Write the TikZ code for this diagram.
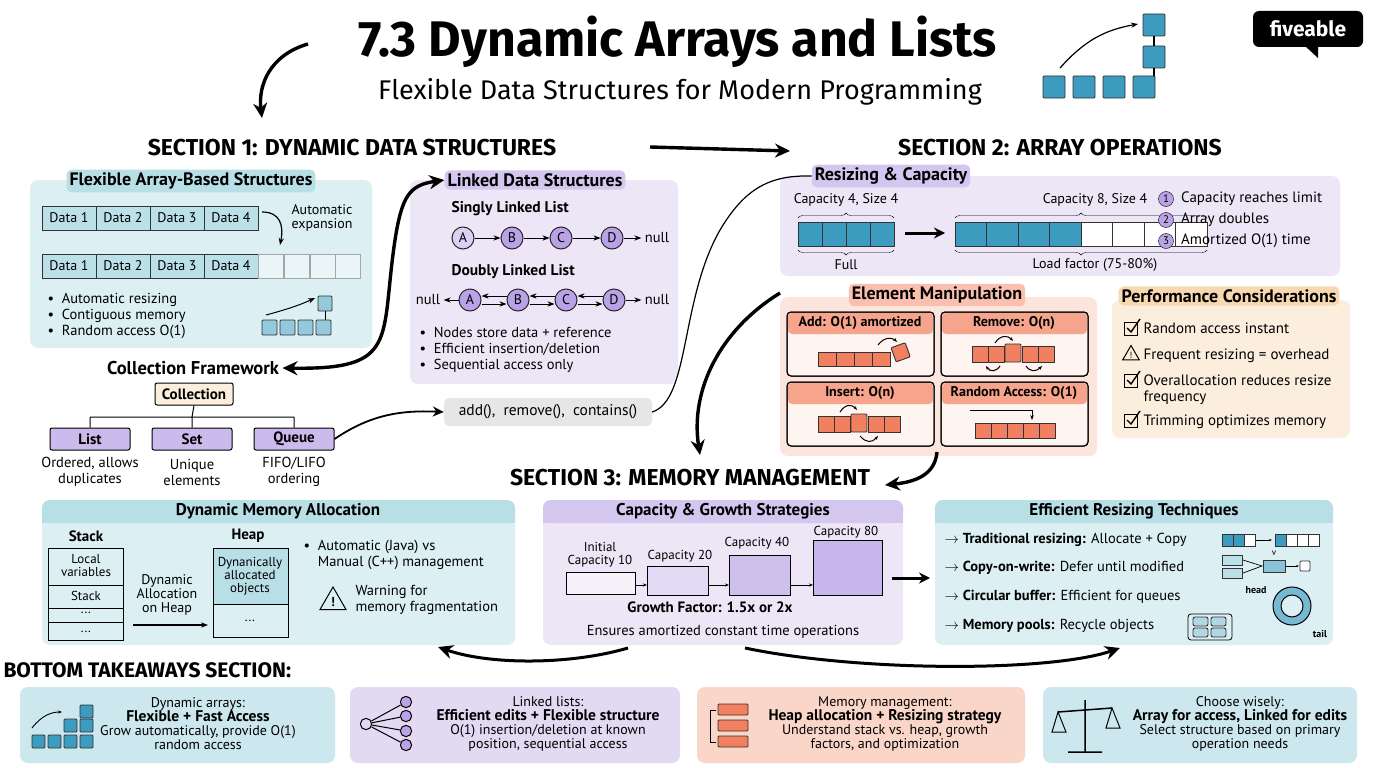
\documentclass[tikz,border=0pt]{standalone}
\usepackage{fontspec}
\setmainfont{PT Sans}
\newfontfamily\titlef{Fira Sans}
\usetikzlibrary{arrows.meta,decorations.pathreplacing,shapes.geometric}
\definecolor{tbg}{HTML}{DCEFF2}\definecolor{thd}{HTML}{B8DEE6}
\definecolor{pbg}{HTML}{ECE6F6}\definecolor{phd}{HTML}{D3C6EF}
\definecolor{obg}{HTML}{FCE5DC}\definecolor{ohd}{HTML}{F6A48C}
\definecolor{ybg}{HTML}{FBEEDD}\definecolor{yhd}{HTML}{F8D8B0}
\definecolor{gbg}{HTML}{E6E6E6}\definecolor{cblue}{HTML}{3C9BBE}
\definecolor{cpur}{HTML}{B9A3E6}\definecolor{cor}{HTML}{F08060}
\definecolor{tcell}{HTML}{BCE0E7}
\tikzset{
 fs/.style={font=\fontsize{#1}{#1}\selectfont},
 box/.style={rounded corners=8pt,fill=#1,draw=none},
 hd/.style={rounded corners=5pt,fill=#1,inner sep=3pt,font=\fontsize{18}{18}\selectfont\bfseries},
 txt/.style={font=\fontsize{14.5}{16}\selectfont,align=center},
 ltxt/.style={font=\fontsize{14.5}{16}\selectfont,anchor=west,align=left},
 cell/.style={draw=black!80,line width=1pt,fill=#1,minimum height=24pt,inner sep=1pt,font=\fontsize{14}{14}\selectfont},
 big/.style={line width=3.4pt,-{Stealth[length=15pt,width=14pt]}},
 thin/.style={line width=1.2pt,-{Stealth[length=7pt]}},
 ln/.style={draw=black!85,fill=cpur,circle,minimum size=22pt,inner sep=0,line width=1pt,font=\fontsize{14}{14}\selectfont},
 sq/.style={draw=black!80,line width=0.9pt,fill=#1,rounded corners=1pt},
}
\begin{document}
\begin{tikzpicture}[x=1pt,y=-1pt]
\useasboundingbox (0,0) rectangle (1376,768);
\fill[white] (0,0) rectangle (1376,768);
% title
\node (title) at (678,42) {\titlef\fontsize{50}{50}\selectfont\bfseries 7.3 Dynamic Arrays and Lists};
\node (sub) at (680,92) {\titlef\fontsize{27}{27}\selectfont Flexible Data Structures for Modern Programming};
\coordinate (ta) at (308,44); \coordinate (tb) at (262,118);
\draw[big] (ta) .. controls (270,55) and (258,85) .. (tb);
% icon top
\foreach \x in {1043,1073,1103,1133}{\draw[sq=cblue] (\x,76) rectangle ++(22,22);}
\draw[sq=cblue] (1143,46) rectangle ++(22,22);\draw[sq=cblue] (1143,14) rectangle ++(22,22);
\draw[line width=1.2pt] (1154,36)--(1154,46) (1154,68)--(1154,76);
\draw[thin] (1060,68) .. controls (1085,40) and (1105,30) .. (1138,24);
% logo
\node[fill=black,rounded corners=6pt,text=white,minimum width=110pt,minimum height=36pt,font=\titlef\fontsize{21}{21}\selectfont\bfseries] (logo) at (1308,29) {fiveable};
\fill[black] (1305,46)--(1318,46)--(1318,58)--cycle;
% section headings
\node[font=\titlef\fontsize{23}{23}\selectfont\bfseries] (s1) at (352,148) {SECTION 1: DYNAMIC DATA STRUCTURES};
\node[font=\titlef\fontsize{23}{23}\selectfont\bfseries] (s2) at (1060,148) {SECTION 2: ARRAY OPERATIONS};
\draw[big] (650,147) -- (790,151);
% Flexible box
\fill[box=tbg] (30,180) rectangle (372,348);
\node[hd=thd] (fh) at (191,181) {Flexible Array-Based Structures};
\foreach \i/\x in {1/42,2/96,3/150,4/204}{
 \node[cell=tcell,minimum width=54pt] (ra\i) at (\x+27,218) {Data \i};
 \node[cell=tcell,minimum width=54pt] (rb\i) at (\x+27,266) {Data \i};}
\foreach \x in {258,284,310,335}{\draw[draw=black!35,line width=0.9pt,fill=tbg!60] (\x,254) rectangle ++(25,24);}
\node[txt,fs=14] (ae) at (322,218) {Automatic\\expansion};
\draw[thin] (262,212) .. controls (280,212) and (284,225) .. (280,245);
\node[ltxt] (fb) at (44,316) {\textbullet\ \ Automatic resizing\\\textbullet\ \ Contiguous memory\\\textbullet\ \ Random access O(1)};
\foreach \x in {262,280,298,316}{\draw[sq=cblue!55] (\x,320) rectangle ++(15,15);}
\draw[sq=cblue!55] (318,296) rectangle ++(14,15); \draw (325,311)--(325,320);
\draw[thin,line width=1pt] (266,315) .. controls (285,310) and (300,305) .. (315,298);
% Linked box
\fill[box=pbg] (410,180) rectangle (678,384);
\node[hd=phd] (lh) at (535,180) {Linked Data Structures};
\node[anchor=west,font=\fontsize{15.5}{16}\selectfont\bfseries] (sl) at (448,209) {Singly Linked List};
\node[ln,fill=cpur!50] (a1) at (463,238) {A};\node[ln] (b1) at (512,238) {B};\node[ln] (c1) at (561,238) {C};\node[ln] (d1) at (612,238) {D};
\node[txt] (n1) at (657,238) {null};
\foreach \u/\v in {a1/b1,b1/c1,c1/d1,d1/n1}{\draw[thin,line width=1pt] (\u)--(\v);}
\node[anchor=west,font=\fontsize{15.5}{16}\selectfont\bfseries] (dl) at (448,272) {Doubly Linked List};
\node[txt] (n0) at (428,300) {null};
\node[ln] (a2) at (470,300) {A};\node[ln] (b2) at (518,300) {B};\node[ln] (c2) at (566,300) {C};\node[ln] (d2) at (614,300) {D};
\node[txt] (n2) at (657,300) {null};
\draw[thin,line width=1pt] (a2)--(n0); \draw[thin,line width=1pt] (d2)--(n2);
\foreach \u/\v in {a2/b2,b2/c2,c2/d2}{\draw[thin,line width=1pt] ([yshift=-4pt]\u.east)--([yshift=-4pt]\v.west);\draw[thin,line width=1pt] ([yshift=4pt]\v.west)--([yshift=4pt]\u.east);}
\node[ltxt] (lb) at (416,350) {\textbullet\ \ Nodes store data + reference\\\textbullet\ \ Efficient insertion/deletion\\\textbullet\ \ Sequential access only};
% collection framework
\node[font=\fontsize{18.5}{18}\selectfont\bfseries] (cf) at (193,368) {Collection Framework};
\draw[line width=3.4pt,{Stealth[length=15pt,width=14pt]}-{Stealth[length=15pt,width=14pt]}] (cf.east) .. controls (400,370) and (380,340) .. (395,240) .. controls (402,195) and (410,185) .. (lh.west);
\node[draw,line width=1pt,fill=ybg,rounded corners=2pt,font=\fontsize{15}{15}\selectfont\bfseries,minimum width=78pt,minimum height=22pt] (col) at (194,394) {Collection};
\foreach \n/\x/\t in {li/90/List,se/192/Set,qu/294/Queue}{\node[draw,line width=1pt,fill=cpur!75,rounded corners=2pt,font=\fontsize{15}{15}\selectfont\bfseries,minimum width=80pt,minimum height=22pt] (\n) at (\x,439) {\t};}
\draw[line width=1pt] (col.south)--(192,417) (90,417)--(294,417) (li.north)--(90,417) (se.north)--(192,417) (qu.north)--(294,417);
\node[txt] at (90,472) {Ordered, allows\\duplicates};
\node[txt] at (192,472) {Unique\\elements};
\node[txt] at (294,472) {FIFO/LIFO\\ordering};
\node[fill=gbg,rounded corners=5pt,font=\fontsize{15.5}{15}\selectfont,minimum width=208pt,minimum height=28pt] (ops) at (548,412) {add(),\ \ remove(),\ \ contains()};
\draw[thin,line width=1.8pt,-{Stealth[length=11pt,width=10pt]}] (qu.east) .. controls (370,415) and (400,410) .. (ops.west);
% Resizing box
\fill[box=pbg] (780,176) rectangle (1340,276);
\node[hd=phd] (rh) at (891,176) {Resizing \& Capacity};
\draw[line width=1.2pt] (ops.east) .. controls (690,400) and (680,300) .. (720,230) .. controls (745,188) and (770,175) .. (rh.west);
\node[font=\fontsize{14}{14}\selectfont] at (846,200) {Capacity 4, Size 4};
\foreach \i in {0,...,3}{\draw[sq=cblue,rounded corners=0] (798+24*\i,222) rectangle ++(24,24);}
\foreach \i in {0,...,7}{\ifnum\i<4\def\c{cblue}\else\def\c{white}\fi\draw[sq=\c,rounded corners=0] (955+31.5*\i,222) rectangle ++(31.5,24);}
\draw[decorate,decoration={brace,amplitude=5pt}] (798,218)--(894,218);
\draw[decorate,decoration={brace,amplitude=5pt,mirror}] (798,250)--(894,250);
\draw[decorate,decoration={brace,amplitude=5pt}] (955,218)--(1207,218);
\draw[decorate,decoration={brace,amplitude=5pt,mirror}] (955,250)--(1207,250);
\node[font=\fontsize{14}{14}\selectfont] at (846,265) {Full};
\node[font=\fontsize{14}{14}\selectfont] at (1095,200) {Capacity 8, Size 4};
\node[font=\fontsize{14}{14}\selectfont] at (1095,265) {Load factor (75-80\%)};
\draw[big,line width=3pt,-{Stealth[length=11pt,width=11pt]}] (905,233)--(945,233);
\foreach \k/\y/\t in {1/199/Capacity reaches limit,2/220/Array doubles,3/241/Amortized O(1) time}{
 \node[circle,draw,fill=cpur,inner sep=0,minimum size=15pt,font=\fontsize{11}{11}\selectfont] at (1166,\y) {\k};
 \node[anchor=west,inner sep=0,font=\fontsize{15}{15}\selectfont] at (1181,\y) {\t};}
% Element manipulation
\fill[box=obg] (780,297) rectangle (1097,456);
\node[hd=ohd!70] (eh) at (937,295) {Element Manipulation};
\foreach \n/\x/\y/\t in {ea/787/312/{Add: O(1) amortized},er/941/312/{Remove: O(n)},ei/787/382/{Insert: O(n)},ex/941/382/{Random Access: O(1)}}{
 \draw[fill=white!60!obg,line width=1pt,rounded corners=4pt] (\x,\y) rectangle ++(147,64);
 \fill[ohd,rounded corners=4pt] (\x+1,\y+1) rectangle ++(145,21);
 \draw[line width=1pt,rounded corners=4pt] (\x,\y) rectangle ++(147,64);
 \node[font=\fontsize{14}{14}\selectfont\bfseries] (\n) at (\x+73,\y+11) {\t};}
\foreach \i in {0,...,3}{\draw[sq=cor,rounded corners=0] (818+18*\i,352) rectangle ++(18,14);}
\draw[sq=cor,rotate around={20:(900,352)}] (893,345) rectangle ++(15,15);
\draw[thin,line width=1pt,-{Stealth[length=4pt]}] (878,345) .. controls (884,337) and (892,337) .. (897,342);
\foreach \x in {972,988,1022,1038}{\draw[sq=cor,rounded corners=0] (\x,346) rectangle ++(16,16);}
\draw[sq=cor] (1005,344) rectangle ++(16,18);
\draw[thin,line width=1pt,-{Stealth[length=4pt]}] (995,343) .. controls (1000,335) and (1008,335) .. (1013,341);
\draw[thin,line width=1pt,-{Stealth[length=4pt]}] (1000,366) .. controls (996,372) and (990,372) .. (986,366);
\draw[thin,line width=1pt,-{Stealth[length=4pt]}] (1026,366) .. controls (1030,372) and (1036,372) .. (1042,366);
\foreach \x in {818,834,868,884}{\draw[sq=cor,rounded corners=0] (\x,416) rectangle ++(16,16);}
\draw[sq=cor] (851,414) rectangle ++(16,18);
\draw[thin,line width=1pt,-{Stealth[length=4pt]}] (840,412) .. controls (845,404) and (852,404) .. (857,410);
\draw[thin,line width=1pt,-{Stealth[length=4pt]}] (860,436) .. controls (866,443) and (872,443) .. (878,436);
\foreach \i in {0,...,4}{\draw[sq=cor,rounded corners=0] (975+16*\i,423) rectangle ++(16,15);}
\draw[thin,line width=1pt,-{Stealth[length=5pt]}] (970,410)--(1032,410)--(1032,420);
% Performance
\fill[box=ybg] (1112,300) rectangle (1350,438);
\node[hd=yhd] (ph) at (1229,296) {Performance Considerations};
\foreach \y/\s/\t in {328/c/Random access instant,354/w/Frequent resizing = overhead,380/c/{Overallocation reduces resize\\frequency},420/c/Trimming optimizes memory}{
 \node[ltxt,anchor=north west,font=\fontsize{15}{16.5}\selectfont] at (1140,\y-9) {\t};
 \if\s c\draw[line width=1pt] (1124,\y-6) rectangle ++(13,13); \draw[line width=1.4pt] (1127,\y) -- (1131,\y+4) -- (1140,\y-9);
 \else\node[draw,line width=1pt,regular polygon,regular polygon sides=3,inner sep=0,minimum size=19pt,font=\fontsize{9}{9}\selectfont] at (1131,\y+1) {!};\fi}
% section 3
\node[font=\titlef\fontsize{23}{23}\selectfont\bfseries] (s3) at (690,478) {SECTION 3: MEMORY MANAGEMENT};
\draw[big] (780,293) .. controls (720,330) and (690,390) .. (700,455);
\draw[big] (937,452) .. controls (935,475) and (915,482) .. (885,485);
% dynamic memory
\fill[box=tbg] (42,500) rectangle (515,645);
\fill[thd,rounded corners=8pt] (42,500) rectangle (515,523);\fill[thd] (42,512) rectangle (515,523);
\node[font=\fontsize{17}{17}\selectfont\bfseries] (dh) at (278,511) {Dynamic Memory Allocation};
\node[font=\fontsize{15}{15}\selectfont\bfseries] at (86,536) {Stack};
\draw[line width=1pt,fill=tbg] (48,548) rectangle (123,640);
\draw[line width=1pt] (48,585)--(123,585) (48,608)--(123,608) (48,622)--(123,622);
\node[txt,fs=13] at (86,566) {Local\\variables};
\node[txt,fs=13] at (86,596) {Stack};\node[txt,fs=13] at (86,613) {...};\node[txt,fs=13] at (86,632) {...};
\node[txt,fs=14] at (167,595) {Dynamic\\Allocation\\on Heap};
\node[font=\fontsize{15}{15}\selectfont\bfseries] at (248,536) {Heap};
\draw[line width=1pt,fill=tbg] (213,548) rectangle (288,637);
\draw[line width=1pt,fill=thd] (213,548) rectangle (288,604);
\node[txt,fs=13] at (250,576) {Dynanically\\allocated\\objects};\node[txt,fs=13] at (250,621) {...};
\coordinate (sk) at (133,625);\coordinate (hp) at (208,625);
\draw[thin,line width=1.5pt] (sk)--(hp);
\node[ltxt,anchor=north west] at (300,537) {\textbullet\ \ Automatic (Java) vs\\\phantom{\textbullet\ \ }Manual (C++) management};
\node[draw,line width=1pt,regular polygon,regular polygon sides=3,inner sep=0,minimum size=30pt,font=\fontsize{13}{13}\selectfont\bfseries] at (333,602) {!};
\node[ltxt] at (352,600) {Warning for\\memory fragmentation};
% capacity growth
\fill[box=pbg] (543,500) rectangle (903,645);
\fill[phd,rounded corners=8pt] (543,500) rectangle (903,523);\fill[phd] (543,512) rectangle (903,523);
\node[font=\fontsize{17}{17}\selectfont\bfseries] (gh) at (723,511) {Capacity \& Growth Strategies};
\draw[line width=1pt,fill=pbg!50] (566,572) rectangle (635,594);
\draw[line width=1pt,fill=cpur!40] (647,566) rectangle (708,595);
\draw[line width=1pt,fill=cpur!70] (729,555) rectangle (790,595);
\draw[line width=1pt,fill=cpur!100!violet!80] (813,540) rectangle (882,595);
\node[txt,fs=13] at (600,555) {Initial\\Capacity 10};
\node[txt,fs=13] at (680,556) {Capacity 20};
\node[txt,fs=13] at (757,543) {Capacity 40};
\node[txt,fs=13] at (846,532) {Capacity 80};
\draw[thin,line width=0.8pt,-{Stealth[length=4pt]}] (635,585)--(647,585);
\draw[thin,line width=0.8pt,-{Stealth[length=4pt]}] (708,585)--(729,585);
\draw[thin,line width=0.8pt,-{Stealth[length=4pt]}] (790,585)--(813,585);
\node[font=\fontsize{15}{15}\selectfont\bfseries] at (710,607) {Growth Factor: 1.5x or 2x};
\node[font=\fontsize{14.5}{15}\selectfont] at (723,632) {Ensures amortized constant time operations};
% efficient
\fill[box=tbg] (935,500) rectangle (1333,645);
\fill[thd,rounded corners=8pt] (935,500) rectangle (1333,523);\fill[thd] (935,512) rectangle (1333,523);
\node[font=\fontsize{17}{17}\selectfont\bfseries] (eh2) at (1134,511) {Efficient Resizing Techniques};
\draw[big,line width=3pt,-{Stealth[length=11pt,width=11pt]}] (892,578) -- (930,578);
\foreach \y/\a/\b in {540/{Traditional resizing:}/{Allocate + Copy},568/{Copy-on-write:}/{Defer until modified},597/{Circular buffer:}/{Efficient for queues},626/{Memory pools:}/{Recycle objects}}{
 \node[ltxt,font=\fontsize{14.5}{15}\selectfont] at (941,\y) {$\rightarrow$ \textbf{\a} \b};}
\foreach \i in {0,1,2}{\draw[sq=\ifnum\i<2 cblue\else white\fi,rounded corners=0] (1222+11*\i,534) rectangle ++(11,12);}
\foreach \i in {0,...,3}{\draw[sq=\ifnum\i<1 cblue\else white\fi,rounded corners=0] (1275+11*\i,534) rectangle ++(11,12);}
\draw[thin,line width=0.7pt,-{Stealth[length=3pt]}] (1256,540)--(1272,540);
\draw[sq=tcell,rounded corners=0] (1222,555) rectangle ++(20,10);\draw[sq=tcell,rounded corners=0] (1222,568) rectangle ++(20,10);
\draw[sq=cblue!60,rounded corners=0] (1263,560) rectangle ++(22,12);\draw[sq=white] (1300,561) rectangle ++(10,10);
\draw[line width=0.7pt] (1243,560)--(1262,566)--(1243,573); \draw[thin,line width=0.7pt,-{Stealth[length=3pt]}] (1286,566)--(1299,566);
\node[fs=9] at (1274,553) {v};
\draw[line width=8pt,cblue!70] (1292,606) circle (15pt); \draw[line width=1pt] (1292,606) circle (19pt) (1292,606) circle (11pt);
\node[font=\fontsize{10}{10}\selectfont\bfseries] at (1256,590) {head};
\node[font=\fontsize{10}{10}\selectfont\bfseries] at (1320,634) {tail};
\draw[rounded corners=3pt,line width=0.8pt] (1188,614) rectangle (1232,640);
\foreach \x/\y in {1193/617,1211/617,1193/628,1211/628}{\draw[sq=cblue!40,rounded corners=2pt] (\x,\y) rectangle ++(15,9);}
% bottom arrows
\draw[big,line width=3pt] (628,648) .. controls (570,665) and (490,665) .. (438,647);
\draw[big,line width=3pt] (745,648) .. controls (860,672) and (1050,672) .. (1120,648);
\node[anchor=west,font=\titlef\fontsize{21}{21}\selectfont\bfseries] (bt) at (0,670) {BOTTOM TAKEAWAYS SECTION:};
% cards
\fill[box=tbg!90!cblue] (20,687) rectangle (335,763);
\fill[box=pbg!80!cpur] (350,687) rectangle (680,763);
\fill[box=obg!85!cor] (697,687) rectangle (1025,763);
\fill[box=tbg!90!cblue] (1043,687) rectangle (1357,763);
\node[txt,fs=14] (k1) at (198,724) {Dynamic arrays:\\\textbf{\fontsize{15.5}{17}\selectfont Flexible + Fast Access}\\Grow automatically, provide O(1)\\random access};
\node[txt,fs=14] (k2) at (548,724) {Linked lists:\\\textbf{\fontsize{15.5}{17}\selectfont Efficient edits + Flexible structure}\\O(1) insertion/deletion at known\\position, sequential access};
\node[txt,fs=14] (k3) at (885,724) {Memory management:\\\textbf{\fontsize{15.5}{17}\selectfont Heap allocation + Resizing strategy}\\Understand stack vs. heap, growth\\factors, and optimization};
\node[txt,fs=14] (k4) at (1240,724) {Choose wisely:\\\textbf{\fontsize{15.5}{17}\selectfont Array for access, Linked for edits}\\Select structure based on primary\\operation needs};
% card icons
\foreach \x in {32,48,64,80}{\draw[sq=cblue] (\x,735) rectangle ++(13,13);}
\draw[sq=cblue] (64,719) rectangle ++(13,13);\draw[sq=cblue] (80,705) rectangle ++(13,13);\draw[sq=cblue] (80,719) rectangle ++(13,13);
\draw[thin,line width=0.9pt,-{Stealth[length=4pt]}] (32,728) .. controls (42,715) and (52,712) .. (62,712);
\node[circle,draw,line width=1pt,inner sep=4pt] (i0) at (366,724) {};
\foreach \y in {702,716,731,745}{\node[circle,draw,line width=1pt,fill=cpur,inner sep=4pt] (iy\y) at (406,\y) {}; \draw[line width=1pt] (i0) -- (iy\y);}
\foreach \y in {704,720,736}{\draw[sq=cor] (718,\y) rectangle ++(30,11);}
\draw[line width=1pt] (716,710) -- (710,710) -- (710,742) -- (716,742);
\draw[line width=1.5pt] (1085,700)--(1085,752) (1068,752)--(1102,752) (1058,712)--(1112,708);
\draw[line width=1pt] (1058,712)--(1052,732)--(1066,732)--cycle (1112,708)--(1106,728)--(1120,728)--cycle;
\end{tikzpicture}
\end{document}
